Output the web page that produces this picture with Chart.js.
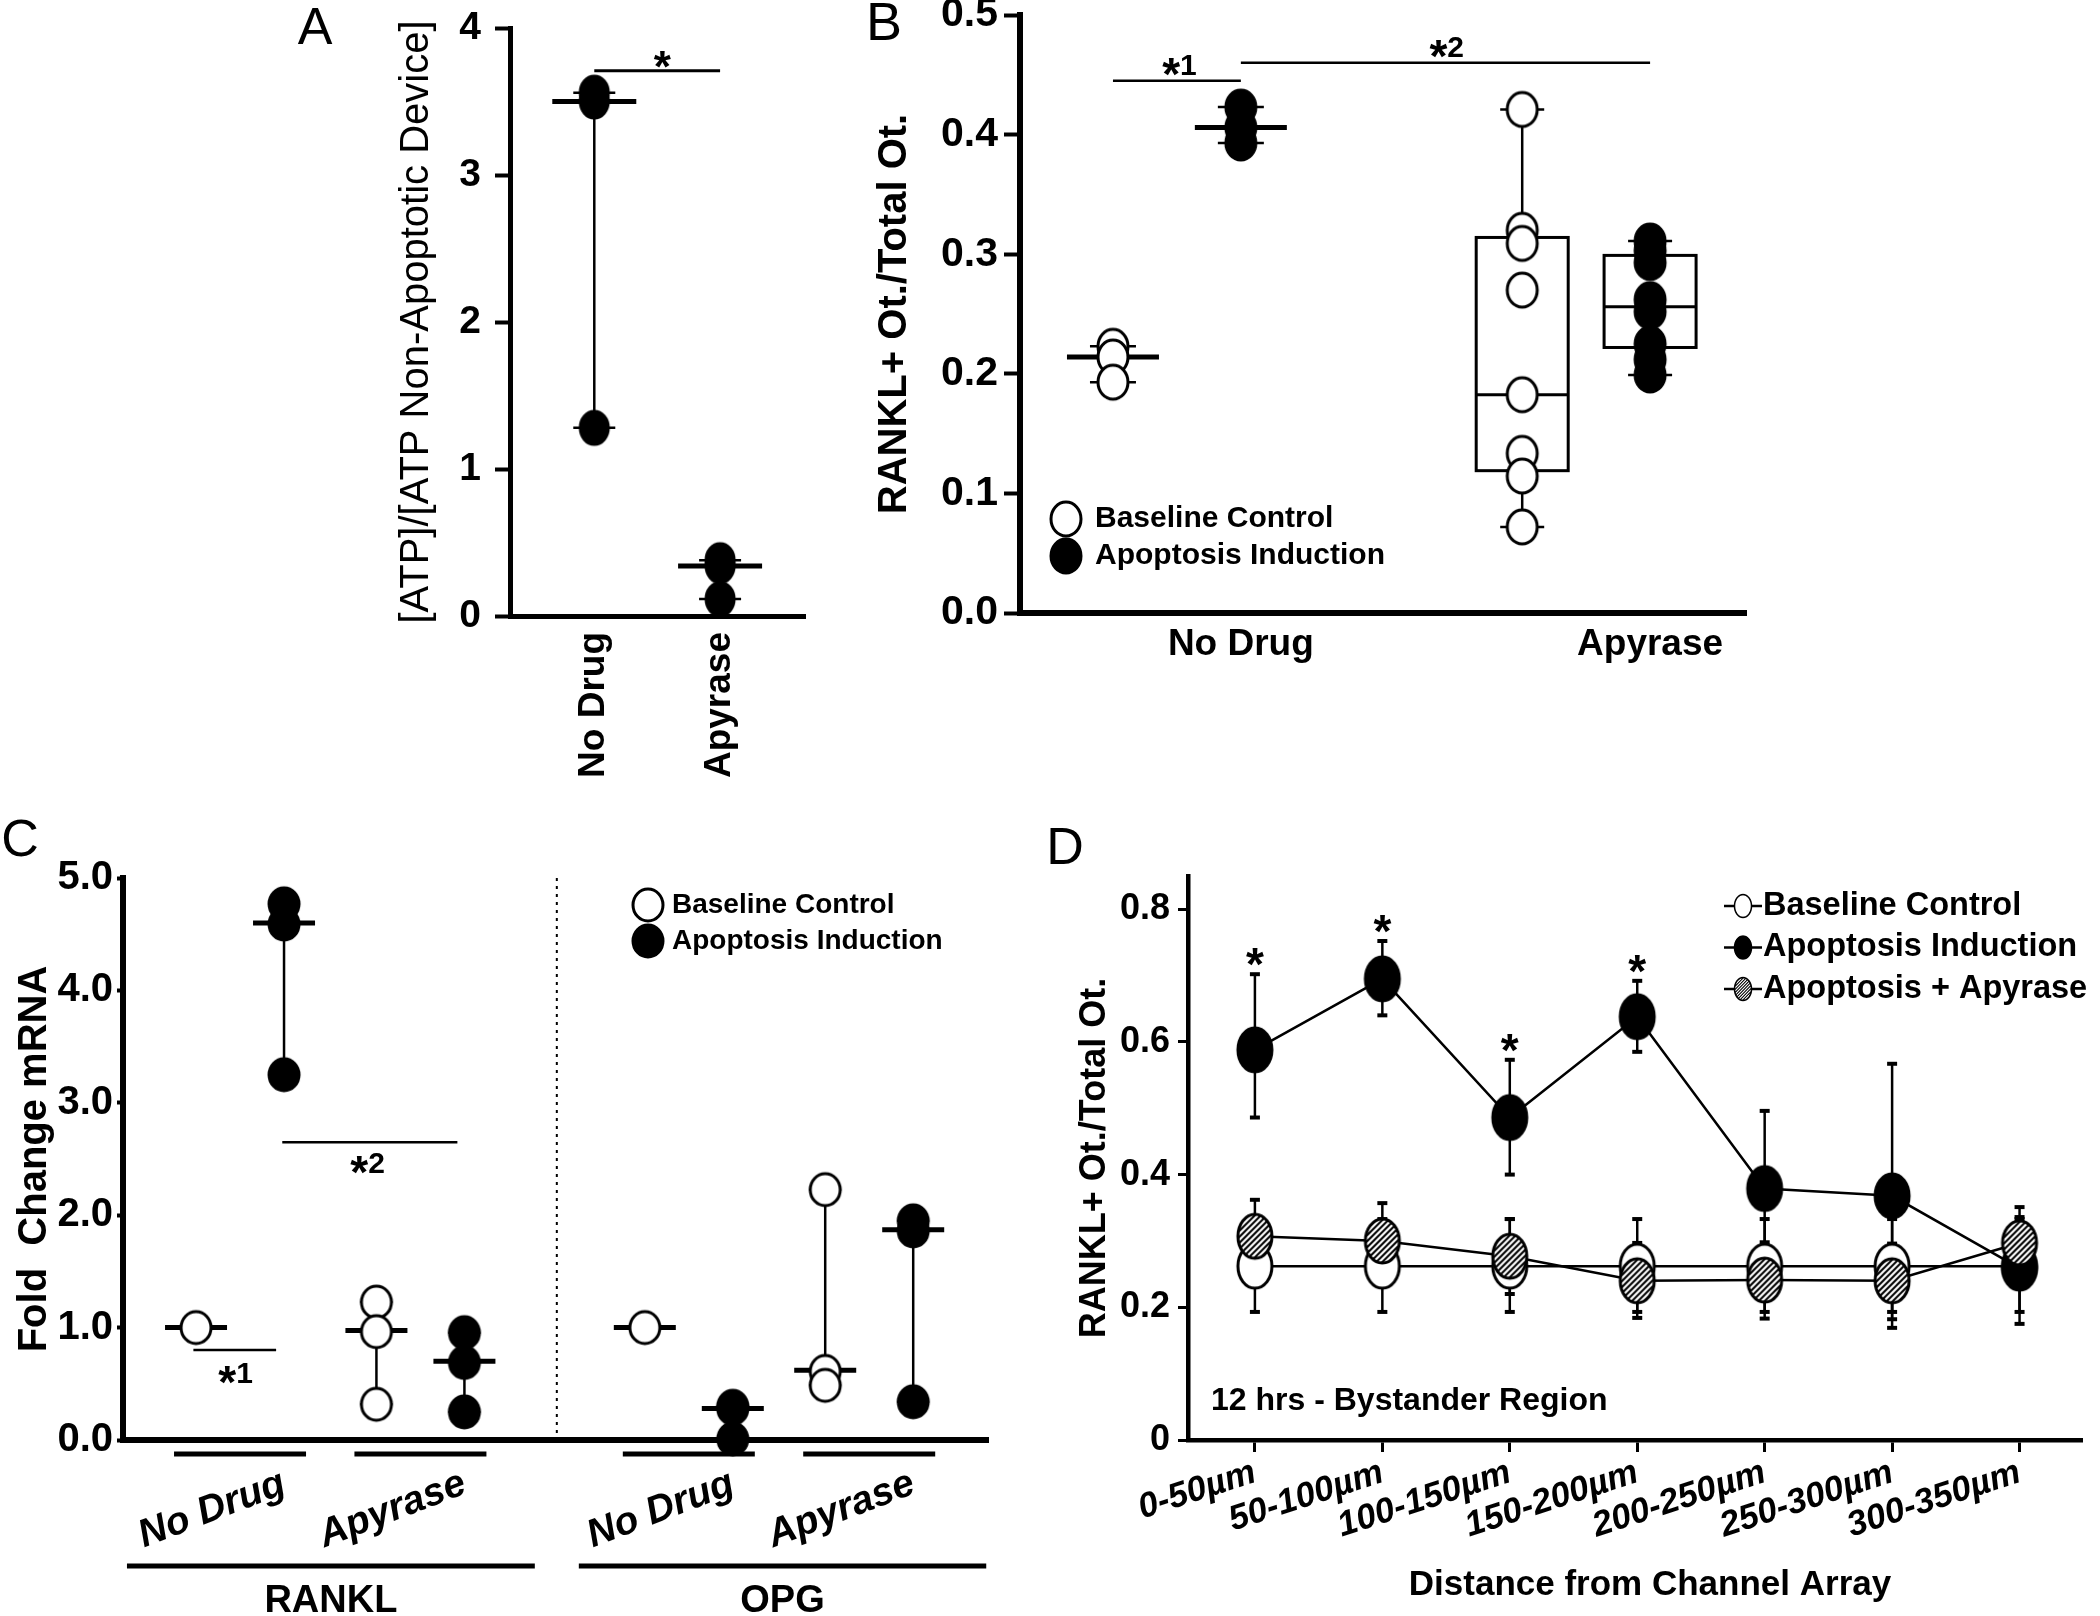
<!DOCTYPE html>
<html>
<head>
<meta charset="utf-8">
<script src="https://cdn.jsdelivr.net/npm/chart.js@4.4.1/dist/chart.umd.min.js"></script>
<style>
  html, body { margin: 0; padding: 0; background: #fff; }
  #wrap { position: relative; width: 2100px; height: 1616px; }
  #wrap canvas { position: absolute; left: 0; top: 0; }
</style>
</head>
<body>
<div id="wrap">
  <canvas id="chartA" width="2100" height="1616"></canvas>
  <canvas id="chartB" width="2100" height="1616"></canvas>
  <canvas id="chartC" width="2100" height="1616"></canvas>
  <canvas id="chartD" width="2100" height="1616"></canvas>
</div>
<script>
// ---- data -------------------------------------------------------------

// A: ATP ratio
const aGroups = ['No Drug', 'Apyrase'];
const aPos = [1, 2];
const aPoints = [[3.56, 3.50, 1.28], [0.38, 0.34, 0.115]];
const aMedian = [3.50, 0.34];

// B: RANKL+ osteocytes
const bGroups = ['No Drug', 'Apyrase'];
const bLabelPos = [2, 5.2];
const bBaselinePos = [1, 4.2];
const bInductionPos = [2, 5.2];
const bBaselineNoDrug = [0.223, 0.214, 0.193];
const bInductionNoDrug = [0.423, 0.406, 0.393];
const bBaselineApyrase = [0.421, 0.32, 0.309, 0.27, 0.1825, 0.1335, 0.1145, 0.072];
const bInductionApyrase = [0.311, 0.303, 0.293, 0.262, 0.252, 0.225, 0.212, 0.199];
const bMedianNoDrug = [0.214, 0.406];
// box = [low whisker, q1, median, q3, high whisker]
const bBoxBaselineApyrase = [0.072, 0.119, 0.1825, 0.314, 0.421];
const bBoxInductionApyrase = [0.199, 0.222, 0.256, 0.299, 0.311];

// C: fold change mRNA (RANKL no drug, RANKL apyrase, OPG no drug, OPG apyrase)
const cGenes = ['RANKL', 'OPG'];
const cTreatments = ['No Drug', 'Apyrase', 'No Drug', 'Apyrase'];
const cBaselinePos = [1, 3.05, 6.1, 8.15];
const cInductionPos = [2, 4.05, 7.1, 9.15];
const cBaseline = [[1.0], [1.227, 0.964, 0.318], [1.0], [2.227, 0.61, 0.486]];
const cInduction = [[4.77, 4.59, 3.25], [0.955, 0.69, 0.25], [0.30, 0.28, 0.01], [1.95, 1.86, 0.34]];
const cBaselineMedian = [1.0, 0.975, 1.0, 0.62];
const cInductionMedian = [4.6, 0.70, 0.28, 1.87];

// D: distance profile
const dDistances = ['0-50µm', '50-100µm', '100-150µm', '150-200µm', '200-250µm', '250-300µm', '300-350µm'];
const dYTicks = [0, 0.2, 0.4, 0.6, 0.8];
const dBaseline = [0.262, 0.262, 0.262, 0.262, 0.262, 0.262, 0.262];
const dBaselineHi = [0.333, 0.333, 0.333, 0.333, 0.333, 0.333, 0.333];
const dBaselineLo = [0.193, 0.193, 0.193, 0.193, 0.193, 0.193, 0.193];
const dInduction = [0.588, 0.695, 0.486, 0.638, 0.379, 0.368, 0.259];
const dInductionHi = [0.702, 0.752, 0.573, 0.692, 0.496, 0.567, 0.336];
const dInductionLo = [0.486, 0.640, 0.400, 0.585, 0.264, 0.169, 0.175];
const dApyrase = [0.307, 0.300, 0.277, 0.240, 0.241, 0.240, 0.297];
const dApyraseHi = [0.362, 0.357, 0.333, 0.297, 0.298, 0.296, 0.351];
const dApyraseLo = [0.252, 0.243, 0.220, 0.184, 0.183, 0.182, 0.243];
const dSignificant = [true, true, true, true, false, false, false];

// ---- layout -----------------------------------------------------------
const W = 2100, H = 1616;
const FONT = '"Liberation Sans", Arial, Helvetica, sans-serif';
const areaA = { left: 510, top: 28, right: 805, bottom: 616 };
const areaB = { left: 1020, top: 15, right: 1746, bottom: 613 };
const areaC = { left: 123, top: 878, right: 988, bottom: 1440 };
const areaD = { left: 1188, top: 876, right: 2082, bottom: 1440 };

function padFor(area, yW, xH) {
    return { left: area.left - yW, top: area.top, right: W - area.right, bottom: H - area.bottom - xH };
}
function fix(prop, size) {
    return function (s) {
        s[prop] = size;
        s.paddingTop = 0; s.paddingBottom = 0; s.paddingLeft = 0; s.paddingRight = 0;
    };
}
function bold(size, style) {
    return { family: FONT, size: size, weight: 'bold', style: style || 'normal' };
}

// ---- drawing helpers --------------------------------------------------
function makeMarker(w, h, kind) {
    const c = document.createElement('canvas');
    c.width = w + 6; c.height = h + 6;
    const g = c.getContext('2d');
    const cx = c.width / 2, cy = c.height / 2;
    g.beginPath();
    g.ellipse(cx, cy, w / 2, h / 2, 0, 0, Math.PI * 2);
    g.fillStyle = kind === 'filled' ? '#000' : '#fff';
    g.fill();
    if (kind === 'hatched') {
        g.save();
        g.clip();
        g.strokeStyle = '#000';
        g.lineWidth = 2;
        for (let k = -c.height; k < c.width + c.height; k += 6) {
            g.beginPath(); g.moveTo(k, c.height); g.lineTo(k + c.height, 0); g.stroke();
        }
        g.restore();
    }
    g.beginPath();
    g.ellipse(cx, cy, w / 2, h / 2, 0, 0, Math.PI * 2);
    g.lineWidth = 3;
    g.strokeStyle = '#000';
    g.stroke();
    return c;
}

function hLine(ctx, x1, x2, y, w) {
    ctx.save(); ctx.strokeStyle = '#000'; ctx.lineWidth = w;
    ctx.beginPath(); ctx.moveTo(x1, y); ctx.lineTo(x2, y); ctx.stroke(); ctx.restore();
}
function vLine(ctx, x, y1, y2, w) {
    ctx.save(); ctx.strokeStyle = '#000'; ctx.lineWidth = w;
    ctx.beginPath(); ctx.moveTo(x, y1); ctx.lineTo(x, y2); ctx.stroke(); ctx.restore();
}
function label(ctx, str, x, y, size, opt) {
    opt = opt || {};
    ctx.save();
    ctx.font = (opt.style || 'normal') + ' ' + (opt.weight || 'bold') + ' ' + size + 'px ' + FONT;
    ctx.fillStyle = '#000';
    ctx.textAlign = opt.align || 'center';
    ctx.textBaseline = opt.baseline || 'middle';
    ctx.translate(x, y);
    if (opt.angle) ctx.rotate(opt.angle * Math.PI / 180);
    ctx.fillText(str, 0, 0);
    ctx.restore();
}
function star(ctx, x, yC, size) {
    label(ctx, '*', x, yC + 0.56 * size, size, { baseline: 'alphabetic' });
}
function starNum(ctx, num, x, yC, starSize, numSize) {
    ctx.save();
    ctx.font = 'bold ' + starSize + 'px ' + FONT;
    const ws = ctx.measureText('*').width;
    ctx.font = 'bold ' + numSize + 'px ' + FONT;
    const wn = ctx.measureText(num).width;
    ctx.restore();
    const x0 = x - (ws + wn) / 2;
    star(ctx, x0 + ws / 2, yC, starSize);
    label(ctx, num, x0 + ws, yC + 0.36 * numSize, numSize, { align: 'left', baseline: 'alphabetic' });
}
// min-to-max line with caps and a median bar
function drawRange(chart, xVal, vals, median, medHalf, capHalf) {
    const ctx = chart.ctx, xs = chart.scales.x, ys = chart.scales.y;
    const x = xs.getPixelForValue(xVal);
    if (vals.length > 1) {
        const lo = ys.getPixelForValue(Math.min.apply(null, vals));
        const hi = ys.getPixelForValue(Math.max.apply(null, vals));
        vLine(ctx, x, lo, hi, 2.5);
        hLine(ctx, x - capHalf, x + capHalf, lo, 2.5);
        hLine(ctx, x - capHalf, x + capHalf, hi, 2.5);
    }
    const m = ys.getPixelForValue(median);
    hLine(ctx, x - medHalf, x + medHalf, m, 5);
}
function drawBox(chart, xVal, box, half, capHalf) {
    const ctx = chart.ctx, xs = chart.scales.x, ys = chart.scales.y;
    const x = xs.getPixelForValue(xVal);
    const p = box.map(function (v) { return ys.getPixelForValue(v); });
    vLine(ctx, x, p[0], p[1], 2.5);
    vLine(ctx, x, p[3], p[4], 2.5);
    hLine(ctx, x - capHalf, x + capHalf, p[0], 2.5);
    hLine(ctx, x - capHalf, x + capHalf, p[4], 2.5);
    ctx.save();
    ctx.fillStyle = '#fff'; ctx.strokeStyle = '#000'; ctx.lineWidth = 3;
    ctx.fillRect(x - half, p[3], half * 2, p[1] - p[3]);
    ctx.strokeRect(x - half, p[3], half * 2, p[1] - p[3]);
    ctx.restore();
    hLine(ctx, x - half, x + half, p[2], 3);
}
function pointsAt(pos, groups) {
    const out = [];
    groups.forEach(function (arr, i) {
        arr.forEach(function (v) { out.push({ x: pos[i], y: v }); });
    });
    return out;
}

const mkA = makeMarker(28, 33, 'filled');
const mkBOpen = makeMarker(30, 34, 'open');
const mkBFill = makeMarker(30, 34, 'filled');
const mkCOpen = makeMarker(30, 32, 'open');
const mkCFill = makeMarker(30, 32, 'filled');
const mkDOpen = makeMarker(34, 44, 'open');
const mkDFill = makeMarker(34, 44, 'filled');
const mkDHatch = makeMarker(34, 44, 'hatched');

const common = {
    responsive: false,
    animation: false,
    events: [],
    devicePixelRatio: 1,
};
const noPlug = { legend: { display: false }, tooltip: { enabled: false } };

// ---- A ----------------------------------------------------------------
new Chart(document.getElementById('chartA'), {
    type: 'scatter',
    data: {
        datasets: [{
            data: pointsAt(aPos, aPoints),
            pointStyle: mkA, pointRadius: 16, clip: false,
        }]
    },
    options: Object.assign({}, common, {
        layout: { padding: padFor(areaA, 120, 190), autoPadding: false },
        plugins: noPlug,
        scales: {
            x: {
                type: 'linear', min: 0.33, max: 2.675,
                afterBuildTicks: function (s) { s.ticks = aPos.map(function (v) { return { value: v }; }); },
                ticks: {
                    autoSkip: false, minRotation: 90, maxRotation: 90, padding: 16,
                    font: bold(37), color: '#000',
                    callback: function (v) { return aGroups[aPos.indexOf(v)]; }
                },
                grid: { display: true, drawOnChartArea: false, drawTicks: false },
                border: { display: true, color: '#000', width: 5 },
                afterFit: fix('height', 190)
            },
            y: {
                min: 0, max: 4,
                ticks: { stepSize: 1, padding: 14, font: bold(39), color: '#000' },
                grid: { display: true, drawOnChartArea: false, drawTicks: true, tickLength: 15, tickWidth: 4, tickColor: '#000' },
                border: { display: true, color: '#000', width: 5 },
                afterFit: fix('width', 120)
            }
        }
    }),
    plugins: [{
        id: 'decorA',
        beforeDatasetsDraw: function (chart) {
            aPos.forEach(function (p, i) { drawRange(chart, p, aPoints[i], aMedian[i], 42, 21); });
        },
        afterDraw: function (chart) {
            const ctx = chart.ctx, a = chart.chartArea, xs = chart.scales.x, ys = chart.scales.y;
            const yb = ys.getPixelForValue(3.71);
            hLine(ctx, xs.getPixelForValue(aPos[0]), xs.getPixelForValue(aPos[1]), yb, 3);
            star(ctx, xs.getPixelForValue(1.54), yb - 13, 44);
            label(ctx, '[ATP]/[ATP Non-Apoptotic Device]', a.left - 93, (a.top + a.bottom) / 2, 40, { weight: 'normal', angle: -90 });
            label(ctx, 'A', a.left - 195, a.top + 2, 52, { weight: 'normal' });
        }
    }]
});

// ---- B ----------------------------------------------------------------
new Chart(document.getElementById('chartB'), {
    type: 'scatter',
    data: {
        datasets: [{
            data: pointsAt(bBaselinePos, [bBaselineNoDrug, bBaselineApyrase]),
            pointStyle: mkBOpen, pointRadius: 16, clip: false,
        }, {
            data: pointsAt(bInductionPos, [bInductionNoDrug, bInductionApyrase]),
            pointStyle: mkBFill, pointRadius: 16, clip: false,
        }]
    },
    options: Object.assign({}, common, {
        layout: { padding: padFor(areaB, 130, 70), autoPadding: false },
        plugins: noPlug,
        scales: {
            x: {
                type: 'linear', min: 0.273, max: 5.95,
                afterBuildTicks: function (s) { s.ticks = bLabelPos.map(function (v) { return { value: v }; }); },
                ticks: {
                    autoSkip: false, maxRotation: 0, padding: 10,
                    font: bold(37), color: '#000',
                    callback: function (v) { return bGroups[bLabelPos.indexOf(v)]; }
                },
                grid: { display: true, drawOnChartArea: false, drawTicks: false },
                border: { display: true, color: '#000', width: 6 },
                afterFit: fix('height', 70)
            },
            y: {
                min: 0, max: 0.5,
                ticks: { stepSize: 0.1, padding: 6, font: bold(41), color: '#000', callback: function (v) { return v.toFixed(1); } },
                grid: { display: true, drawOnChartArea: false, drawTicks: true, tickLength: 16, tickWidth: 4, tickColor: '#000' },
                border: { display: true, color: '#000', width: 6 },
                afterFit: fix('width', 130)
            }
        }
    }),
    plugins: [{
        id: 'decorB',
        beforeDatasetsDraw: function (chart) {
            drawRange(chart, bBaselinePos[0], bBaselineNoDrug, bMedianNoDrug[0], 46, 23);
            drawRange(chart, bInductionPos[0], bInductionNoDrug, bMedianNoDrug[1], 46, 23);
            drawBox(chart, bBaselinePos[1], bBoxBaselineApyrase, 46, 22);
            drawBox(chart, bInductionPos[1], bBoxInductionApyrase, 46, 22);
        },
        afterDraw: function (chart) {
            const ctx = chart.ctx, a = chart.chartArea, xs = chart.scales.x, ys = chart.scales.y;
            const y1 = ys.getPixelForValue(0.445), y2 = ys.getPixelForValue(0.46);
            hLine(ctx, xs.getPixelForValue(bBaselinePos[0]), xs.getPixelForValue(bInductionPos[0]), y1, 2.5);
            hLine(ctx, xs.getPixelForValue(bInductionPos[0]), xs.getPixelForValue(bInductionPos[1]), y2, 2.5);
            starNum(ctx, '1', xs.getPixelForValue(1.52), y1 - 17, 46, 30);
            starNum(ctx, '2', xs.getPixelForValue(3.61), y2 - 17, 46, 30);
            ctx.drawImage(mkBOpen, a.left + 46 - mkBOpen.width / 2, a.bottom - 94 - mkBOpen.height / 2);
            ctx.drawImage(mkBFill, a.left + 46 - mkBFill.width / 2, a.bottom - 57 - mkBFill.height / 2);
            label(ctx, 'Baseline Control', a.left + 75, a.bottom - 94, 30, { align: 'left' });
            label(ctx, 'Apoptosis Induction', a.left + 75, a.bottom - 57, 30, { align: 'left' });
            label(ctx, 'RANKL+ Ot./Total Ot.', a.left - 125, (a.top + a.bottom) / 2, 40, { angle: -90 });
            label(ctx, 'B', a.left - 136, a.top + 10, 54, { weight: 'normal' });
        }
    }]
});

// ---- C ----------------------------------------------------------------
const cGeneSpans = [[0.215, 4.85], [5.35, 9.98]];
const cDivider = 5.1;
new Chart(document.getElementById('chartC'), {
    type: 'scatter',
    data: {
        datasets: [{
            data: pointsAt(cBaselinePos, cBaseline),
            pointStyle: mkCOpen, pointRadius: 16, clip: false,
        }, {
            data: pointsAt(cInductionPos, cInduction),
            pointStyle: mkCFill, pointRadius: 16, clip: false,
        }]
    },
    options: Object.assign({}, common, {
        layout: { padding: padFor(areaC, 110, 10), autoPadding: false },
        plugins: noPlug,
        scales: {
            x: {
                type: 'linear', min: 0.17, max: 10.0,
                ticks: { display: false },
                grid: { display: true, drawOnChartArea: false, drawTicks: false },
                border: { display: true, color: '#000', width: 6 },
                afterFit: fix('height', 10)
            },
            y: {
                min: 0, max: 5,
                ticks: { stepSize: 1, padding: 4, font: bold(40), color: '#000', callback: function (v) { return v.toFixed(1); } },
                grid: { display: true, drawOnChartArea: false, drawTicks: true, tickLength: 6, tickWidth: 4, tickColor: '#000' },
                border: { display: true, color: '#000', width: 6 },
                afterFit: fix('width', 110)
            }
        }
    }),
    plugins: [{
        id: 'decorC',
        beforeDatasetsDraw: function (chart) {
            const ctx = chart.ctx, a = chart.chartArea, xs = chart.scales.x;
            ctx.save();
            ctx.setLineDash([3, 5]);
            vLine(ctx, xs.getPixelForValue(cDivider), a.top, a.bottom, 2);
            ctx.restore();
            cBaselinePos.forEach(function (p, i) { drawRange(chart, p, cBaseline[i], cBaselineMedian[i], 31, 16); });
            cInductionPos.forEach(function (p, i) { drawRange(chart, p, cInduction[i], cInductionMedian[i], 31, 16); });
        },
        afterDraw: function (chart) {
            const ctx = chart.ctx, a = chart.chartArea, xs = chart.scales.x, ys = chart.scales.y;
            // significance
            const s1 = ys.getPixelForValue(0.8), s2 = ys.getPixelForValue(2.65);
            hLine(ctx, xs.getPixelForValue(0.97), xs.getPixelForValue(1.91), s1, 2.5);
            hLine(ctx, xs.getPixelForValue(1.98), xs.getPixelForValue(3.97), s2, 2.5);
            starNum(ctx, '1', xs.getPixelForValue(1.45), s1 + 22, 46, 30);
            starNum(ctx, '2', xs.getPixelForValue(2.95), s2 + 20, 46, 30);
            // treatment groups
            cTreatments.forEach(function (t, i) {
                const cx = (xs.getPixelForValue(cBaselinePos[i]) + xs.getPixelForValue(cInductionPos[i])) / 2;
                hLine(ctx, cx - 66, cx + 66, a.bottom + 14, 5);
                label(ctx, t, cx - 28, a.bottom + 70, 39, { angle: -21, style: 'italic' });
            });
            cGenes.forEach(function (g, i) {
                const x1 = xs.getPixelForValue(cGeneSpans[i][0]), x2 = xs.getPixelForValue(cGeneSpans[i][1]);
                hLine(ctx, x1, x2, a.bottom + 126, 5);
                label(ctx, g, (x1 + x2) / 2, a.bottom + 162, 38);
            });
            // legend
            ctx.drawImage(mkCOpen, a.left + 525 - mkCOpen.width / 2, a.top + 27 - mkCOpen.height / 2);
            ctx.drawImage(mkCFill, a.left + 525 - mkCFill.width / 2, a.top + 63 - mkCFill.height / 2);
            label(ctx, 'Baseline Control', a.left + 549, a.top + 27, 28, { align: 'left' });
            label(ctx, 'Apoptosis Induction', a.left + 549, a.top + 63, 28, { align: 'left' });
            label(ctx, 'Fold  Change mRNA', a.left - 88, (a.top + a.bottom) / 2, 40, { angle: -90 });
            label(ctx, 'C', a.left - 103, a.top - 36, 52, { weight: 'normal' });
        }
    }]
});

// ---- D ----------------------------------------------------------------
function series(vals) { return vals.map(function (v, i) { return { x: i, y: v }; }); }
new Chart(document.getElementById('chartD'), {
    type: 'scatter',
    data: {
        datasets: [{
            label: 'Baseline Control', data: series(dBaseline), order: 2,
            showLine: true, borderColor: '#000', borderWidth: 2.5,
            pointStyle: mkDOpen, pointRadius: 18, clip: false,
        }, {
            label: 'Apoptosis Induction', data: series(dInduction), order: 1,
            showLine: true, borderColor: '#000', borderWidth: 2.5,
            pointStyle: mkDFill, pointRadius: 18, clip: false,
        }, {
            label: 'Apoptosis + Apyrase', data: series(dApyrase), order: 0,
            showLine: true, borderColor: '#000', borderWidth: 2.5,
            pointStyle: mkDHatch, pointRadius: 18, clip: false,
        }]
    },
    options: Object.assign({}, common, {
        layout: { padding: padFor(areaD, 120, 150), autoPadding: false },
        plugins: noPlug,
        scales: {
            x: {
                type: 'linear', min: -0.525, max: 6.49,
                afterBuildTicks: function (s) { s.ticks = dDistances.map(function (d, i) { return { value: i }; }); },
                ticks: {
                    autoSkip: false, minRotation: 18, maxRotation: 18, padding: 0,
                    font: bold(35, 'italic'), color: '#000',
                    callback: function (v) { return dDistances[v]; }
                },
                grid: { display: true, drawOnChartArea: false, drawTicks: true, tickLength: 12, tickWidth: 3, tickColor: '#000' },
                border: { display: true, color: '#000', width: 4.5 },
                afterFit: fix('height', 150)
            },
            y: {
                min: 0, max: 0.85,
                afterBuildTicks: function (s) { s.ticks = dYTicks.map(function (v) { return { value: v }; }); },
                ticks: { padding: 8, font: bold(36), color: '#000', callback: function (v) { return v === 0 ? '0' : v.toFixed(1); } },
                grid: { display: true, drawOnChartArea: false, drawTicks: true, tickLength: 10, tickWidth: 3, tickColor: '#000' },
                border: { display: true, color: '#000', width: 4.5 },
                afterFit: fix('width', 120)
            }
        }
    }),
    plugins: [{
        id: 'decorD',
        beforeDatasetsDraw: function (chart) {
            const ctx = chart.ctx, xs = chart.scales.x, ys = chart.scales.y;
            [[dBaselineLo, dBaselineHi], [dInductionLo, dInductionHi], [dApyraseLo, dApyraseHi]].forEach(function (e) {
                e[0].forEach(function (lo, i) {
                    const x = xs.getPixelForValue(i);
                    const yl = ys.getPixelForValue(lo), yh = ys.getPixelForValue(e[1][i]);
                    vLine(ctx, x, yl, yh, 2.5);
                    hLine(ctx, x - 5, x + 5, yl, 4);
                    hLine(ctx, x - 5, x + 5, yh, 4);
                });
            });
        },
        afterDraw: function (chart) {
            const ctx = chart.ctx, a = chart.chartArea, xs = chart.scales.x, ys = chart.scales.y;
            dSignificant.forEach(function (s, i) {
                if (s) star(ctx, xs.getPixelForValue(i), ys.getPixelForValue(dInductionHi[i]) - 20, 46);
            });
            // legend
            const rows = [['Baseline Control', mkDOpen], ['Apoptosis Induction', mkDFill], ['Apoptosis + Apyrase', mkDHatch]];
            rows.forEach(function (r, i) {
                const y = a.top + 30 + i * 41.5, cx = a.left + 555;
                hLine(ctx, cx - 19, cx + 19, y, 2.5);
                ctx.drawImage(r[1], cx - 10, y - 13, 20, 26);
                label(ctx, r[0], cx + 20, y, 32.5, { align: 'left' });
            });
            label(ctx, '12 hrs - Bystander Region', a.left + 23, a.bottom - 39, 32, { align: 'left' });
            label(ctx, 'Distance from Channel Array', (a.left + a.right) / 2 + 15, a.bottom + 145, 35);
            label(ctx, 'RANKL+ Ot./Total Ot.', a.left - 93, (a.top + a.bottom) / 2, 36, { angle: -90 });
            label(ctx, 'D', a.left - 123, a.top - 26, 52, { weight: 'normal' });
        }
    }]
});
</script>
</body>
</html>
